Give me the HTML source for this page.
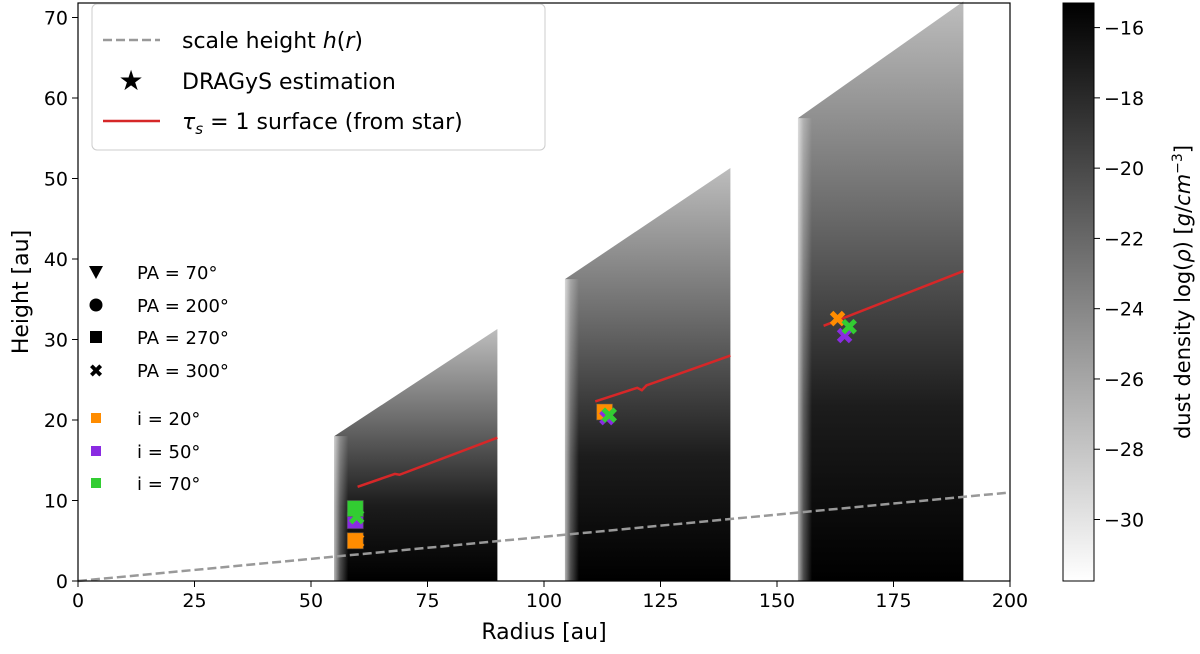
<!DOCTYPE html>
<html><head><meta charset="utf-8"><style>
body{margin:0;background:#fff;width:1200px;height:649px;overflow:hidden}
svg text{font-family:"DejaVu Sans","Liberation Sans",sans-serif;fill:#000}
</style></head><body>
<svg id="chart" width="1200" height="649" viewBox="0 0 1200 649" xmlns="http://www.w3.org/2000/svg">
<defs>
<linearGradient id="cbg" x1="0" y1="1" x2="0" y2="0"><stop offset="0" stop-color="#fff"/><stop offset="1" stop-color="#000"/></linearGradient>
<linearGradient id="fade" x1="0" y1="0" x2="1" y2="0"><stop offset="0" stop-color="#fff" stop-opacity="0.7"/><stop offset="0.4" stop-color="#fff" stop-opacity="0.3"/><stop offset="1" stop-color="#fff" stop-opacity="0"/></linearGradient>
</defs>
<g id="plot"></g>
<g id="legend1">
<rect x="92" y="4" width="453" height="146" rx="5" fill="#fff" fill-opacity="0.9" stroke="#ccc"/>
<line x1="103" y1="40" x2="160" y2="40" stroke="#999" stroke-width="2.5" stroke-dasharray="9,4"/>
<text x="182" y="48" font-size="22">scale height <tspan font-style="italic">h</tspan>(<tspan font-style="italic">r</tspan>)</text>
<text x="131" y="90" font-size="28" text-anchor="middle">★</text>
<text x="182" y="89" font-size="22">DRAGyS estimation</text>
<line x1="103" y1="121" x2="160" y2="121" stroke="#d62728" stroke-width="2.5"/>
<text x="182" y="129" font-size="22"><tspan font-style="italic">τ</tspan><tspan font-size="15" font-style="italic" dy="5">s</tspan><tspan dy="-5"> = 1 surface (from star)</tspan></text>
</g>
<g id="legend2" font-size="18">
<polygon points="89,266 103,266 96,279" fill="#000"/><text x="137" y="279">PA = 70°</text>
<circle cx="96" cy="305" r="6.5" fill="#000"/><text x="137" y="312">PA = 200°</text>
<rect x="90" y="331" width="12" height="12" fill="#000"/><text x="137" y="344">PA = 270°</text>
<text x="96" y="377" text-anchor="middle" font-size="18" font-weight="bold">✖</text><text x="137" y="377">PA = 300°</text>
<rect x="91" y="413" width="10" height="10" fill="#ff8c00"/><text x="137" y="425">i = 20°</text>
<rect x="91" y="446" width="10" height="10" fill="#8a2be2"/><text x="137" y="458">i = 50°</text>
<rect x="91" y="478" width="10" height="10" fill="#32cd32"/><text x="137" y="490">i = 70°</text>
</g>
</svg>
<script>
const NS='http://www.w3.org/2000/svg';
const xTicks=[0,25,50,75,100,125,150,175,200];
const yTicks=[0,10,20,30,40,50,60,70];
const cbTicks=[-16,-18,-20,-22,-24,-26,-28,-30];
const blockLeft=[55,104.5,154.5];
const blockRight=[90,140,190];
const blockTopLeft=[18,37.5,57.5];
const blockTopRight=[31.3,51.3,72];
const tau1R=[60,68,69,90], tau1H=[11.7,13.3,13.2,17.8];
const tau2R=[111,120,121,122,140], tau2H=[22.3,24,23.7,24.3,28];
const tau3R=[160,190], tau3H=[31.7,38.5];
const scaleR=[0,200], scaleH=[0,11];
const ptR=[59.5,59.5,59.5,59.8,59.8,113,113.5,114,163,164.5,165.5];
const ptH=[5,7.5,9,8,5,21,20.3,20.6,32.6,30.5,31.6];
const ptC=['#ff8c00','#8a2be2','#32cd32','#32cd32','#ff8c00','#ff8c00','#8a2be2','#32cd32','#ff8c00','#8a2be2','#32cd32'];
const ptS=['s','s','s','x','x','s','x','x','x','x','x'];
const X0=78,X1=1010,Y0=581,Y1=3,YMAX=71.8;
const sx=v=>X0+(v-0)/200*(X1-X0);
const sy=v=>Y0-v/YMAX*(Y0-Y1);
const CB0=-31.75,CB1=-15.3,cy=v=>Y0-(v-CB0)/(CB1-CB0)*(Y0-Y1);
const g=document.getElementById('plot');
const svg=document.getElementById('chart');
function mk(t,a,p){const e=document.createElementNS(NS,t);for(const k in a)e.setAttribute(k,a[k]);(p||g).appendChild(e);return e;}
const defs=svg.querySelector('defs');
for(let i=0;i<blockLeft.length;i++){
 const gid='bg'+i;
 const lg=mk('linearGradient',{id:gid,gradientUnits:'userSpaceOnUse',x1:0,y1:sy(blockTopRight[i]),x2:0,y2:Y0},defs);
 [[0,'#bdbdbd'],[0.35,'#6e6e6e'],[0.7,'#1c1c1c'],[1,'#000']].forEach(s=>mk('stop',{offset:s[0],'stop-color':s[1]},lg));
 const p=mk('polygon',{points:`${sx(blockLeft[i])},${Y0} ${sx(blockLeft[i])},${sy(blockTopLeft[i])} ${sx(blockRight[i])},${sy(blockTopRight[i])} ${sx(blockRight[i])},${Y0}`,fill:`url(#${gid})`});
 
 
 const f=mk('rect',{x:sx(blockLeft[i]),y:sy(blockTopLeft[i]),width:14,height:Y0-sy(blockTopLeft[i]),fill:'url(#fade)'});
 
 
}
const sl=mk('polyline',{points:scaleR.map((r,i)=>sx(r)+','+sy(scaleH[i])).join(' '),fill:'none',stroke:'#999','stroke-width':2.5,'stroke-dasharray':'9,4'});


[[tau1R,tau1H],[tau2R,tau2H],[tau3R,tau3H]].forEach((d,k)=>{
 const l=mk('polyline',{points:d[0].map((r,i)=>sx(r)+','+sy(d[1][i])).join(' '),fill:'none',stroke:'#d62728','stroke-width':2.5});
 
 
});
for(let i=0;i<ptR.length;i++){
 const x=sx(ptR[i]),y=sy(ptH[i]);let e;
 if(ptS[i]==='s')e=mk('rect',{x:x-8,y:y-8,width:16,height:16,fill:ptC[i],stroke:'#555','stroke-opacity':0.5});
 else{e=mk('path',{d:`M${x-6},${y-6}L${x+6},${y+6}M${x+6},${y-6}L${x-6},${y+6}`,stroke:ptC[i],'stroke-width':5});}
 
 
}
const frame=mk('rect',{x:X0,y:Y1,width:X1-X0,height:Y0-Y1,fill:'none',stroke:'#000','stroke-width':1.2});


xTicks.forEach(v=>{mk('line',{x1:sx(v),y1:Y0,x2:sx(v),y2:Y0+6,stroke:'#000'});
 const t=mk('text',{x:sx(v),y:Y0+26,'font-size':19,'text-anchor':'middle'});t.textContent=v;
 
 });
yTicks.forEach(v=>{mk('line',{x1:X0-6,y1:sy(v),x2:X0,y2:sy(v),stroke:'#000'});
 const t=mk('text',{x:X0-10,y:sy(v)+7,'font-size':19,'text-anchor':'end'});t.textContent=v;
 
 });
let t=mk('text',{x:544,y:639,'font-size':22,'text-anchor':'middle'});t.textContent='Radius [au]';


t=mk('text',{x:28,y:292,'font-size':22,'text-anchor':'middle',transform:'rotate(-90 28 292)'});t.textContent='Height [au]';


const cb=mk('rect',{x:1063,y:Y1,width:31,height:Y0-Y1,fill:'url(#cbg)',stroke:'#000'});


cbTicks.forEach(v=>{mk('line',{x1:1094,y1:cy(v),x2:1100,y2:cy(v),stroke:'#000'});
 const t=mk('text',{x:1104,y:cy(v)+7,'font-size':19});t.textContent='−'+Math.abs(v);
 
 });
t=mk('text',{x:1190,y:292,'font-size':21,'text-anchor':'middle',transform:'rotate(-90 1190 292)'});
t.innerHTML='dust density log(<tspan font-style="italic">ρ</tspan>) [<tspan font-style="italic">g</tspan>/<tspan font-style="italic">cm</tspan><tspan font-size="14" dy="-8">−3</tspan><tspan dy="8">]</tspan>';


</script>
</body></html>
